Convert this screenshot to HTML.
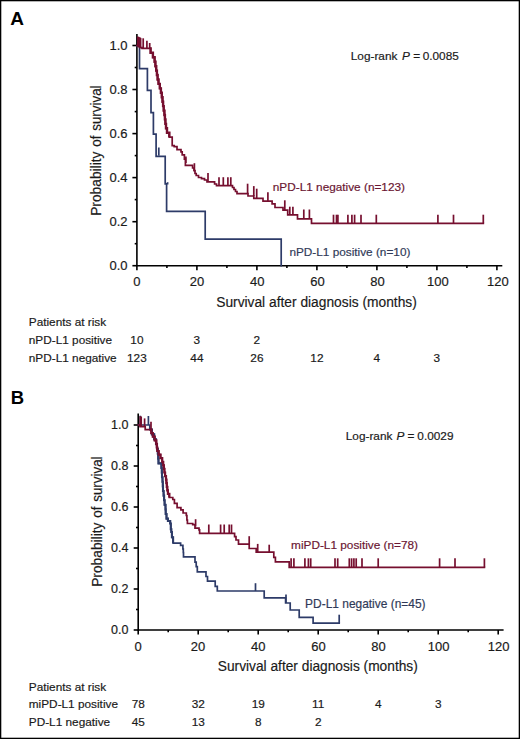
<!DOCTYPE html>
<html><head><meta charset="utf-8"><title>Kaplan-Meier survival curves</title>
<style>html,body{margin:0;padding:0;background:#fff;}body{width:520px;height:739px;overflow:hidden;}svg{display:block;}</style>
</head><body>
<svg width="520" height="739" viewBox="0 0 520 739">
<rect x="0" y="0" width="520" height="739" fill="#000"/>
<rect x="1.3" y="1.3" width="517.4" height="736.4" fill="#fff"/>
<g font-family="Liberation Sans, sans-serif" fill="#1a1a1a" stroke="#1a1a1a" stroke-width="0.18">
<text x="10.2" y="24.6" font-size="19" font-weight="bold" fill="#000" stroke="none">A</text>
<text x="10.7" y="404" font-size="18.5" font-weight="bold" fill="#000" stroke="none">B</text>
<g stroke="#000" stroke-width="1.6" fill="none"><path d="M136.9,34.0 V265.7 H502.3"/><line x1="132.4" y1="265.7" x2="136.9" y2="265.7"/><line x1="134.7" y1="243.7" x2="136.9" y2="243.7"/><line x1="132.4" y1="221.7" x2="136.9" y2="221.7"/><line x1="134.7" y1="199.6" x2="136.9" y2="199.6"/><line x1="132.4" y1="177.6" x2="136.9" y2="177.6"/><line x1="134.7" y1="155.6" x2="136.9" y2="155.6"/><line x1="132.4" y1="133.6" x2="136.9" y2="133.6"/><line x1="134.7" y1="111.6" x2="136.9" y2="111.6"/><line x1="132.4" y1="89.5" x2="136.9" y2="89.5"/><line x1="134.7" y1="67.5" x2="136.9" y2="67.5"/><line x1="132.4" y1="45.5" x2="136.9" y2="45.5"/><line x1="136.9" y1="265.7" x2="136.9" y2="270.2"/><line x1="166.9" y1="265.7" x2="166.9" y2="267.9"/><line x1="196.9" y1="265.7" x2="196.9" y2="270.2"/><line x1="226.9" y1="265.7" x2="226.9" y2="267.9"/><line x1="256.9" y1="265.7" x2="256.9" y2="270.2"/><line x1="286.9" y1="265.7" x2="286.9" y2="267.9"/><line x1="316.9" y1="265.7" x2="316.9" y2="270.2"/><line x1="346.9" y1="265.7" x2="346.9" y2="267.9"/><line x1="376.9" y1="265.7" x2="376.9" y2="270.2"/><line x1="406.9" y1="265.7" x2="406.9" y2="267.9"/><line x1="436.9" y1="265.7" x2="436.9" y2="270.2"/><line x1="466.9" y1="265.7" x2="466.9" y2="267.9"/><line x1="496.9" y1="265.7" x2="496.9" y2="270.2"/></g>
<text x="127.6" y="270.3" text-anchor="end" font-size="13.0">0.0</text><text x="127.6" y="226.3" text-anchor="end" font-size="13.0">0.2</text><text x="127.6" y="182.2" text-anchor="end" font-size="13.0">0.4</text><text x="127.6" y="138.2" text-anchor="end" font-size="13.0">0.6</text><text x="127.6" y="94.1" text-anchor="end" font-size="13.0">0.8</text><text x="127.6" y="50.1" text-anchor="end" font-size="13.0">1.0</text>
<text x="136.9" y="286.2" text-anchor="middle" font-size="13.0">0</text><text x="197.1" y="286.2" text-anchor="middle" font-size="13.0">20</text><text x="257.2" y="286.2" text-anchor="middle" font-size="13.0">40</text><text x="317.4" y="286.2" text-anchor="middle" font-size="13.0">60</text><text x="377.6" y="286.2" text-anchor="middle" font-size="13.0">80</text><text x="437.8" y="286.2" text-anchor="middle" font-size="13.0">100</text><text x="497.9" y="286.2" text-anchor="middle" font-size="13.0">120</text>
<text x="216.2" y="307.0" font-size="15.4" textLength="200.6" lengthAdjust="spacingAndGlyphs">Survival after diagnosis (months)</text>
<g transform="translate(101.00,215.80) rotate(-90)"><text x="0.00" y="0" font-size="15.3" textLength="64.20" lengthAdjust="spacingAndGlyphs">Probability</text><text x="69.00" y="0" font-size="15.3" textLength="11.20" lengthAdjust="spacingAndGlyphs">of</text><text x="85.00" y="0" font-size="15.3" textLength="45.40" lengthAdjust="spacingAndGlyphs">survival</text></g>
<text x="350.8" y="60.4" font-size="11.8">Log-rank <tspan dx="1.3" font-style="italic">P</tspan><tspan dx="0.1"> =</tspan><tspan dx="-0.7"> 0.0085</tspan></text>
<text x="272.8" y="190.6" font-size="11.8" fill="#6a1632" stroke="#6a1632">nPD-L1 negative (n=123)</text>
<text x="289.4" y="256" font-size="11.8" fill="#303a58" stroke="#303a58">nPD-L1 positive (n=10)</text>
<text x="28.8" y="325.8" font-size="11.8">Patients at risk</text>
<text x="28.8" y="343.8" font-size="11.8">nPD-L1 positive</text>
<text x="28.8" y="361.8" font-size="11.8">nPD-L1 negative</text>
<text x="136.9" y="343.8" font-size="11.8" text-anchor="middle">10</text>
<text x="196.9" y="343.8" font-size="11.8" text-anchor="middle">3</text>
<text x="256.9" y="343.8" font-size="11.8" text-anchor="middle">2</text>
<text x="136.9" y="361.8" font-size="11.8" text-anchor="middle">123</text>
<text x="196.9" y="361.8" font-size="11.8" text-anchor="middle">44</text>
<text x="256.9" y="361.8" font-size="11.8" text-anchor="middle">26</text>
<text x="316.9" y="361.8" font-size="11.8" text-anchor="middle">12</text>
<text x="376.9" y="361.8" font-size="11.8" text-anchor="middle">4</text>
<text x="436.9" y="361.8" font-size="11.8" text-anchor="middle">3</text>
<g stroke="#000" stroke-width="1.6" fill="none"><path d="M138.2,413.5 V630.0 H503.6"/><line x1="133.7" y1="630.0" x2="138.2" y2="630.0"/><line x1="136.0" y1="609.5" x2="138.2" y2="609.5"/><line x1="133.7" y1="589.0" x2="138.2" y2="589.0"/><line x1="136.0" y1="568.5" x2="138.2" y2="568.5"/><line x1="133.7" y1="548.0" x2="138.2" y2="548.0"/><line x1="136.0" y1="527.5" x2="138.2" y2="527.5"/><line x1="133.7" y1="507.0" x2="138.2" y2="507.0"/><line x1="136.0" y1="486.5" x2="138.2" y2="486.5"/><line x1="133.7" y1="466.0" x2="138.2" y2="466.0"/><line x1="136.0" y1="445.5" x2="138.2" y2="445.5"/><line x1="133.7" y1="425.0" x2="138.2" y2="425.0"/><line x1="138.2" y1="630.0" x2="138.2" y2="634.5"/><line x1="168.2" y1="630.0" x2="168.2" y2="632.2"/><line x1="198.2" y1="630.0" x2="198.2" y2="634.5"/><line x1="228.2" y1="630.0" x2="228.2" y2="632.2"/><line x1="258.2" y1="630.0" x2="258.2" y2="634.5"/><line x1="288.2" y1="630.0" x2="288.2" y2="632.2"/><line x1="318.2" y1="630.0" x2="318.2" y2="634.5"/><line x1="348.2" y1="630.0" x2="348.2" y2="632.2"/><line x1="378.2" y1="630.0" x2="378.2" y2="634.5"/><line x1="408.2" y1="630.0" x2="408.2" y2="632.2"/><line x1="438.2" y1="630.0" x2="438.2" y2="634.5"/><line x1="468.2" y1="630.0" x2="468.2" y2="632.2"/><line x1="498.2" y1="630.0" x2="498.2" y2="634.5"/></g>
<text x="128.4" y="634.3" text-anchor="end" font-size="12.5">0.0</text><text x="128.4" y="593.3" text-anchor="end" font-size="12.5">0.2</text><text x="128.4" y="552.3" text-anchor="end" font-size="12.5">0.4</text><text x="128.4" y="511.3" text-anchor="end" font-size="12.5">0.6</text><text x="128.4" y="470.3" text-anchor="end" font-size="12.5">0.8</text><text x="128.4" y="429.3" text-anchor="end" font-size="12.5">1.0</text>
<text x="138.0" y="651.1" text-anchor="middle" font-size="13.0">0</text><text x="198.1" y="651.1" text-anchor="middle" font-size="13.0">20</text><text x="258.2" y="651.1" text-anchor="middle" font-size="13.0">40</text><text x="318.4" y="651.1" text-anchor="middle" font-size="13.0">60</text><text x="378.5" y="651.1" text-anchor="middle" font-size="13.0">80</text><text x="438.6" y="651.1" text-anchor="middle" font-size="13.0">100</text><text x="498.7" y="651.1" text-anchor="middle" font-size="13.0">120</text>
<text x="217.8" y="671.0" font-size="15.4" textLength="200" lengthAdjust="spacingAndGlyphs">Survival after diagnosis (months)</text>
<g transform="translate(102.30,586.80) rotate(-90)"><text x="0.00" y="0" font-size="15.3" textLength="64.20" lengthAdjust="spacingAndGlyphs">Probability</text><text x="69.00" y="0" font-size="15.3" textLength="11.20" lengthAdjust="spacingAndGlyphs">of</text><text x="85.00" y="0" font-size="15.3" textLength="45.40" lengthAdjust="spacingAndGlyphs">survival</text></g>
<text x="345.8" y="439.8" font-size="11.8">Log-rank <tspan dx="0.8" font-style="italic">P</tspan><tspan dx="0.0"> =</tspan><tspan dx="-0.4"> 0.0029</tspan></text>
<text x="291.1" y="548.8" font-size="11.8" fill="#6a1632" stroke="#6a1632">miPD-L1 positive (n=78)</text>
<text x="305.1" y="607.9" font-size="11.95" fill="#303a58" stroke="#303a58">PD-L1 negative (n=45)</text>
<text x="28.8" y="690.8" font-size="11.8">Patients at risk</text>
<text x="28.8" y="708.3" font-size="11.8">miPD-L1 positive</text>
<text x="28.8" y="725.6" font-size="11.8">PD-L1 negative</text>
<text x="138.2" y="708.3" font-size="11.8" text-anchor="middle">78</text>
<text x="198.2" y="708.3" font-size="11.8" text-anchor="middle">32</text>
<text x="258.2" y="708.3" font-size="11.8" text-anchor="middle">19</text>
<text x="318.2" y="708.3" font-size="11.8" text-anchor="middle">11</text>
<text x="378.2" y="708.3" font-size="11.8" text-anchor="middle">4</text>
<text x="438.2" y="708.3" font-size="11.8" text-anchor="middle">3</text>
<text x="138.2" y="725.6" font-size="11.8" text-anchor="middle">45</text>
<text x="198.2" y="725.6" font-size="11.8" text-anchor="middle">13</text>
<text x="258.2" y="725.6" font-size="11.8" text-anchor="middle">8</text>
<text x="318.2" y="725.6" font-size="11.8" text-anchor="middle">2</text>
</g>
<g fill="none" stroke="#2d3b68" stroke-width="1.7" stroke-linejoin="miter" stroke-linecap="square"><path d="M137,45.8 H139.5 V68.6 H147.4 V90.4 H151 V112.6 H153.4 V134.2 H156.1 V156.3 H165.2 V183.9 H166.6 V211.3 H205.2 V239.2 H281.2 V265.7"/><line x1="158.8" y1="155.7" x2="158.8" y2="147.5" stroke-linecap="butt"/><line x1="167.6" y1="184.5" x2="167.6" y2="182.2" stroke-linecap="butt"/></g>
<g fill="none" stroke="#760f2f" stroke-width="1.7" stroke-linejoin="miter" stroke-linecap="square"><path d="M137,45.5 H138.6 V46.6 H140.2 V47.6 H142 V48.4 H149.4 H150.6 V52.8 H152.9 V57.3 H154.6 V61.7 H155.4 V66.2 H156.2 V70.6 H156.9 V75.0 H157.6 V79.5 H158.5 V83.9 H159.8 V88.4 H160.9 V92.8 H161.8 V97.2 H162.5 V101.7 H163.1 V106.1 H163.7 V110.6 H164.4 V115.0 H164.9 V119.4 H165.4 V123.9 H166.0 V128.3 H167.0 V132.8 H169.3 V137.2 H172.2 V145.6 H174.2 V146.6 H177 V149.6 H181 V151.9 H182.2 V154.8 H184.4 V159.2 H185.4 V165.3 H192.6 V168 H194 V170.5 H195 V173.5 H196.2 V175.5 H198.5 V177.5 H201.5 V178.6 H204.5 V180 H207 V181.8 H214.6 V184 H216.5 V185.6 H232.5 V187.5 H234 V189.5 H235.5 V191.5 H237 V193.6 H248 V196 H253.8 V198.4 H263 V201.1 H272.1 V203.8 H275 V207.5 H283 V210.2 H287.7 V214.8 H297.5 V218.8 H311.5 V223.3 H483.3"/><line x1="137.8" y1="46.6" x2="137.8" y2="36.5" stroke-linecap="butt"/><line x1="138.8" y1="46.6" x2="138.8" y2="36.9" stroke-linecap="butt"/><line x1="139.8" y1="47.4" x2="139.8" y2="37.3" stroke-linecap="butt"/><line x1="140.6" y1="47.6" x2="140.6" y2="37.9" stroke-linecap="butt"/><line x1="143.2" y1="48.4" x2="143.2" y2="38.3" stroke-linecap="butt"/><line x1="146.9" y1="48.4" x2="146.9" y2="40.7" stroke-linecap="butt"/><line x1="149.7" y1="48.4" x2="149.7" y2="43.0" stroke-linecap="butt"/><line x1="185.9" y1="163.0" x2="185.9" y2="156.5" stroke-linecap="butt"/><line x1="194.4" y1="171.5" x2="194.4" y2="163.2" stroke-linecap="butt"/><line x1="208.0" y1="181.8" x2="208.0" y2="172.9" stroke-linecap="butt"/><line x1="219.0" y1="185.6" x2="219.0" y2="177.2" stroke-linecap="butt"/><line x1="223.3" y1="185.6" x2="223.3" y2="177.2" stroke-linecap="butt"/><line x1="227.9" y1="185.6" x2="227.9" y2="177.2" stroke-linecap="butt"/><line x1="230.8" y1="185.6" x2="230.8" y2="177.2" stroke-linecap="butt"/><line x1="247.6" y1="193.6" x2="247.6" y2="183.7" stroke-linecap="butt"/><line x1="253.8" y1="196.0" x2="253.8" y2="186.1" stroke-linecap="butt"/><line x1="256.7" y1="198.4" x2="256.7" y2="188.7" stroke-linecap="butt"/><line x1="267.9" y1="201.1" x2="267.9" y2="192.2" stroke-linecap="butt"/><line x1="284.8" y1="210.2" x2="284.8" y2="200.3" stroke-linecap="butt"/><line x1="289.8" y1="214.8" x2="289.8" y2="206.7" stroke-linecap="butt"/><line x1="292.9" y1="214.8" x2="292.9" y2="206.7" stroke-linecap="butt"/><line x1="303.8" y1="218.8" x2="303.8" y2="209.5" stroke-linecap="butt"/><line x1="309.4" y1="218.8" x2="309.4" y2="209.5" stroke-linecap="butt"/><line x1="333.5" y1="223.3" x2="333.5" y2="214.7" stroke-linecap="butt"/><line x1="336.5" y1="223.3" x2="336.5" y2="214.7" stroke-linecap="butt"/><line x1="337.9" y1="223.3" x2="337.9" y2="214.7" stroke-linecap="butt"/><line x1="347.9" y1="223.3" x2="347.9" y2="214.7" stroke-linecap="butt"/><line x1="351.9" y1="223.3" x2="351.9" y2="214.7" stroke-linecap="butt"/><line x1="354.6" y1="223.3" x2="354.6" y2="214.7" stroke-linecap="butt"/><line x1="361.0" y1="223.3" x2="361.0" y2="214.7" stroke-linecap="butt"/><line x1="376.3" y1="223.3" x2="376.3" y2="214.7" stroke-linecap="butt"/><line x1="437.9" y1="223.3" x2="437.9" y2="214.7" stroke-linecap="butt"/><line x1="453.5" y1="223.3" x2="453.5" y2="214.7" stroke-linecap="butt"/><line x1="483.3" y1="223.3" x2="483.3" y2="214.7" stroke-linecap="butt"/></g>
<path d="M149.4,48.4 H150.6 V52.8 H152.9 V57.3 H154.6 V61.7 H155.4 V66.2 H156.2 V70.6 H156.9 V75.0 H157.6 V79.5 H158.5 V83.9 H159.8 V88.4 H160.9 V92.8 H161.8 V97.2 H162.5 V101.7 H163.1 V106.1 H163.7 V110.6 H164.4 V115.0 H164.9 V119.4 H165.4 V123.9 H166.0 V128.3 H167.0 V132.8 H169.3 V137.2" fill="none" stroke="#760f2f" stroke-width="2.4"/>
<g fill="none" stroke="#2d3b68" stroke-width="1.7" stroke-linejoin="miter" stroke-linecap="square"><path d="M138.2,425 H149.8 V429.6 H151.9 V434.4 H154.2 V439.3 H156.0 V444.1 H157.0 V448.9 H157.8 V453.7 H158.2 V458.6 H158.5 V463.4 H161.4 V468 H161.8 V472.6 H162 V477.2 H162.5 V481.8 H162.8 V486.4 H163 V491 H163.6 V495.6 H164.1 V500.2 H164.6 V504.8 H165.5 V509.4 H165.7 V514 H166.5 V518.6 H167.9 V521 H170.2 V523.5 H170.8 V529.2 H171.3 V532 H171.9 V537.3 H173.1 V543.1 H180.6 V545.4 H182.9 V549 H183.3 V552.5 H183.5 V556.9 H195 V562.1 H196.2 V566.6 H197.3 V571.9 H206 V576.5 H207.5 V581.1 H215.2 V586.3 H217.3 V591.0 H264.2 V597.8 H285.6 V603.0 H290.2 V610.0 H299.2 V617.3 H313.1 V623.2 H339.2"/><line x1="140.3" y1="425.0" x2="140.3" y2="415.7" stroke-linecap="butt"/><line x1="148.4" y1="425.0" x2="148.4" y2="416.0" stroke-linecap="butt"/><line x1="255.5" y1="591.0" x2="255.5" y2="583.2" stroke-linecap="butt"/><line x1="286.0" y1="603.0" x2="286.0" y2="594.4" stroke-linecap="butt"/><line x1="339.2" y1="623.2" x2="339.2" y2="614.7" stroke-linecap="butt"/></g>
<path d="M149.8,429.6 H151.9 V434.4 H154.2 V439.3 H156.0 V444.1 H157.0 V448.9 H157.8 V453.7 H158.2 V458.6 H158.5 V463.4 H161.4 V468 H161.8 V472.6 H162 V477.2 H162.5 V481.8 H162.8 V486.4 H163 V491 H163.6 V495.6 H164.1 V500.2 H164.6 V504.8 H165.5 V509.4 H165.7 V514 H166.5 V518.6 H167.9 V521 H170.2 V523.5 H170.8 V529.2 H171.3 V532 H171.9 V537.3 H173.1 V543.1" fill="none" stroke="#2d3b68" stroke-width="2.1"/>
<g fill="none" stroke="#760f2f" stroke-width="1.7" stroke-linejoin="miter" stroke-linecap="square"><path d="M138.2,425 H140 V426.7 H145.2 V429.6 H150.6 H151.3 V433.2 H152.8 V436.7 H154.7 V440.3 H156.3 V443.9 H156.8 V447.5 H157.3 V451.0 H158.7 V454.6 H160.5 V458.2 H162.2 V461.8 H163.2 V465.3 H163.9 V468.9 H164.4 V472.5 H165.1 V476.1 H166.0 V479.6 H166.4 V483.2 H166.8 V486.8 H167.3 V490.4 H167.9 V493.9 H169.3 V497.5 H172.8 V499.5 H174.4 V503.3 H177.1 V507.6 H180.9 V509.8 H183.1 V513 H186.3 V515.5 H186.9 V520 H187.4 V523.5 H192.7 V524.6 H195 V528.1 H199 V529.8 H199.6 V533.3 H234.6 V536.6 H236 V540 H238.5 V544.2 H249.2 V548.5 H256.2 V552.2 H273.8 V557.3 H275.4 V561.9 H289.2 V567.4 H484.4"/><line x1="140.2" y1="426.7" x2="140.2" y2="416.2" stroke-linecap="butt"/><line x1="141.2" y1="426.7" x2="141.2" y2="416.5" stroke-linecap="butt"/><line x1="144.6" y1="426.7" x2="144.6" y2="418.4" stroke-linecap="butt"/><line x1="151.0" y1="431.5" x2="151.0" y2="421.7" stroke-linecap="butt"/><line x1="195.6" y1="526.5" x2="195.6" y2="519.2" stroke-linecap="butt"/><line x1="208.8" y1="533.3" x2="208.8" y2="524.5" stroke-linecap="butt"/><line x1="220.6" y1="533.3" x2="220.6" y2="524.5" stroke-linecap="butt"/><line x1="224.2" y1="533.3" x2="224.2" y2="524.5" stroke-linecap="butt"/><line x1="229.2" y1="533.3" x2="229.2" y2="524.5" stroke-linecap="butt"/><line x1="231.5" y1="533.3" x2="231.5" y2="524.5" stroke-linecap="butt"/><line x1="249.2" y1="544.2" x2="249.2" y2="536.2" stroke-linecap="butt"/><line x1="257.7" y1="552.2" x2="257.7" y2="543.9" stroke-linecap="butt"/><line x1="269.2" y1="552.2" x2="269.2" y2="544.7" stroke-linecap="butt"/><line x1="291.1" y1="567.4" x2="291.1" y2="558.3" stroke-linecap="butt"/><line x1="293.9" y1="567.4" x2="293.9" y2="558.3" stroke-linecap="butt"/><line x1="304.9" y1="567.4" x2="304.9" y2="558.3" stroke-linecap="butt"/><line x1="308.4" y1="567.4" x2="308.4" y2="558.3" stroke-linecap="butt"/><line x1="310.7" y1="567.4" x2="310.7" y2="558.3" stroke-linecap="butt"/><line x1="335.0" y1="567.4" x2="335.0" y2="558.3" stroke-linecap="butt"/><line x1="337.7" y1="567.4" x2="337.7" y2="558.3" stroke-linecap="butt"/><line x1="349.3" y1="567.4" x2="349.3" y2="558.3" stroke-linecap="butt"/><line x1="351.6" y1="567.4" x2="351.6" y2="558.3" stroke-linecap="butt"/><line x1="353.9" y1="567.4" x2="353.9" y2="558.3" stroke-linecap="butt"/><line x1="356.2" y1="567.4" x2="356.2" y2="558.3" stroke-linecap="butt"/><line x1="362.0" y1="567.4" x2="362.0" y2="558.3" stroke-linecap="butt"/><line x1="378.2" y1="567.4" x2="378.2" y2="558.3" stroke-linecap="butt"/><line x1="439.6" y1="567.4" x2="439.6" y2="558.3" stroke-linecap="butt"/><line x1="455.0" y1="567.4" x2="455.0" y2="558.3" stroke-linecap="butt"/><line x1="484.4" y1="567.4" x2="484.4" y2="558.3" stroke-linecap="butt"/></g>
<path d="M150.6,429.6 H151.3 V433.2 H152.8 V436.7 H154.7 V440.3 H156.3 V443.9 H156.8 V447.5 H157.3 V451.0 H158.7 V454.6 H160.5 V458.2 H162.2 V461.8 H163.2 V465.3 H163.9 V468.9 H164.4 V472.5 H165.1 V476.1 H166.0 V479.6 H166.4 V483.2 H166.8 V486.8 H167.3 V490.4 H167.9 V493.9 H169.3 V497.5" fill="none" stroke="#760f2f" stroke-width="2.2"/>
</svg>
</body></html>
